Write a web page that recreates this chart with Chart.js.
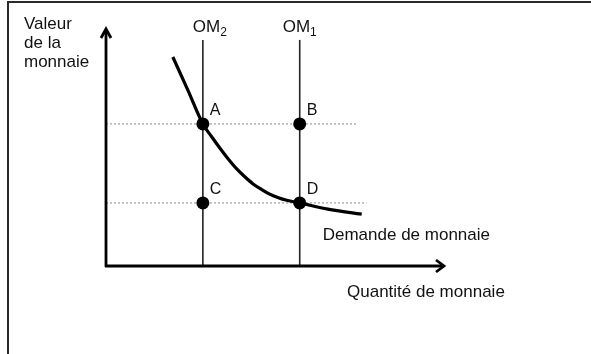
<!DOCTYPE html>
<html>
<head>
<meta charset="utf-8">
<script src="https://cdn.jsdelivr.net/npm/chart.js@4.4.1/dist/chart.umd.min.js"></script>
<style>
  html, body { margin: 0; padding: 0; background: #fff; }
  #wrap { position: relative; width: 591px; height: 354px; overflow: hidden; }
  #frame { position: absolute; left: 7px; top: 1px; width: 700px; height: 500px;
           border-left: 2px solid #2a2a2a; border-top: 2px solid #2a2a2a; }
  #chart { position: absolute; left: 0; top: 0; }
</style>
</head>
<body>
<div id="wrap">
  <div id="frame"></div>
  <canvas id="chart" width="591" height="354"></canvas>
</div>
<script>
// quantities of money (OM2 < OM1) and money value levels
const offreQ = [1, 2];               // OM2, OM1
const offreLabels = ['OM', 'OM'];
const offreSubs = ['2', '1'];
const offreTop = 9.5;
const niveaux = [5.97, 2.65];        // value at A/B, value at C/D
const pointilleFin = [2.59, 2.69];   // where dotted lines stop

// demand curve
const demandeX = [0.69, 0.845, 1.00, 1.093, 1.175, 1.258, 1.35, 1.433, 1.515, 1.608, 1.69, 1.773, 1.866, 2.00, 2.29, 2.64];
const demandeY = [8.78, 7.39, 5.97, 5.42, 4.96, 4.52, 4.08, 3.75, 3.46, 3.21, 3.02, 2.88, 2.76, 2.65, 2.39, 2.18];

const pointNames = ['A', 'B', 'C', 'D'];
const pointsData = [
  { x: offreQ[0], y: niveaux[0] },
  { x: offreQ[1], y: niveaux[0] },
  { x: offreQ[0], y: niveaux[1] },
  { x: offreQ[1], y: niveaux[1] }
];

const xMax = 3.5, yMax = 10;
const FONT = '"Liberation Sans", Arial, sans-serif';
const INK = '#111';

const demande = demandeX.map((x, i) => ({ x: x, y: demandeY[i] }));

const datasets = [
  { data: pointsData, showLine: false, pointRadius: 6.5, pointBackgroundColor: '#000',
    pointBorderWidth: 0, borderColor: '#000' },
  { data: demande, showLine: true, borderColor: '#000', borderWidth: 3.2,
    pointRadius: 0, cubicInterpolationMode: 'monotone' },
  ...offreQ.map(q => ({ data: [{ x: q, y: 0 }, { x: q, y: offreTop }], showLine: true,
    borderColor: '#222', borderWidth: 1.6, pointRadius: 0 })),
  ...niveaux.map((v, i) => ({ data: [{ x: 0, y: v }, { x: pointilleFin[i], y: v }], showLine: true,
    borderColor: '#8a8a8a', borderWidth: 1, borderDash: [2, 2], pointRadius: 0 }))
];

const decor = {
  id: 'decor',
  afterDraw(chart) {
    const c = chart.ctx, xs = chart.scales.x, ys = chart.scales.y;
    const x0 = xs.getPixelForValue(0), y0 = ys.getPixelForValue(0);
    const xe = xs.getPixelForValue(xMax), ye = ys.getPixelForValue(yMax);
    c.save();
    // axes with open arrowheads
    c.strokeStyle = '#000';
    c.lineWidth = 2.8;
    c.lineCap = 'butt';
    c.beginPath();
    c.moveTo(x0, y0 + 1); c.lineTo(x0, ye + 1);
    c.moveTo(x0 - 1, y0); c.lineTo(xe - 1, y0);
    c.stroke();
    c.lineJoin = 'miter';
    c.beginPath();
    c.moveTo(x0 - 5, ye + 10); c.lineTo(x0, ye + 1); c.lineTo(x0 + 5, ye + 10);
    c.moveTo(xe - 9, y0 - 6); c.lineTo(xe - 1, y0); c.lineTo(xe - 9, y0 + 6);
    c.stroke();

    // texts
    c.fillStyle = INK;
    c.textBaseline = 'alphabetic';
    c.textAlign = 'left';
    c.font = '17px ' + FONT;
    ['Valeur', 'de la', 'monnaie'].forEach((t, i) => c.fillText(t, x0 - 82, 29 + i * 19));

    const omDx = [-10, -17];
    offreQ.forEach((q, i) => {
      const px = xs.getPixelForValue(q) + omDx[i];
      c.font = '17px ' + FONT;
      c.fillText(offreLabels[i], px, ye + 4);
      const w = c.measureText(offreLabels[i]).width;
      c.font = '12px ' + FONT;
      c.fillText(offreSubs[i], px + w, ye + 8);
    });

    c.font = '16px ' + FONT;
    pointsData.forEach((p, i) => {
      c.fillText(pointNames[i], xs.getPixelForValue(p.x) + 7, ys.getPixelForValue(p.y) - 9);
    });

    c.font = '17px ' + FONT;
    const last = demande[demande.length - 1];
    c.fillText('Demande de monnaie', xs.getPixelForValue(last.x) - 39, ys.getPixelForValue(last.y) + 26);
    c.fillText('Quantité de monnaie', xe - 98, y0 + 31);
    c.restore();
  }
};

new Chart(document.getElementById('chart'), {
  type: 'scatter',
  data: { datasets: datasets },
  options: {
    responsive: false,
    animation: false,
    clip: false,
    layout: { padding: { left: 106, right: 146, top: 28, bottom: 88 } },
    plugins: { legend: { display: false }, tooltip: { enabled: false } },
    scales: {
      x: { type: 'linear', min: 0, max: xMax, display: false },
      y: { type: 'linear', min: 0, max: yMax, display: false }
    }
  },
  plugins: [decor]
});
</script>
</body>
</html>
